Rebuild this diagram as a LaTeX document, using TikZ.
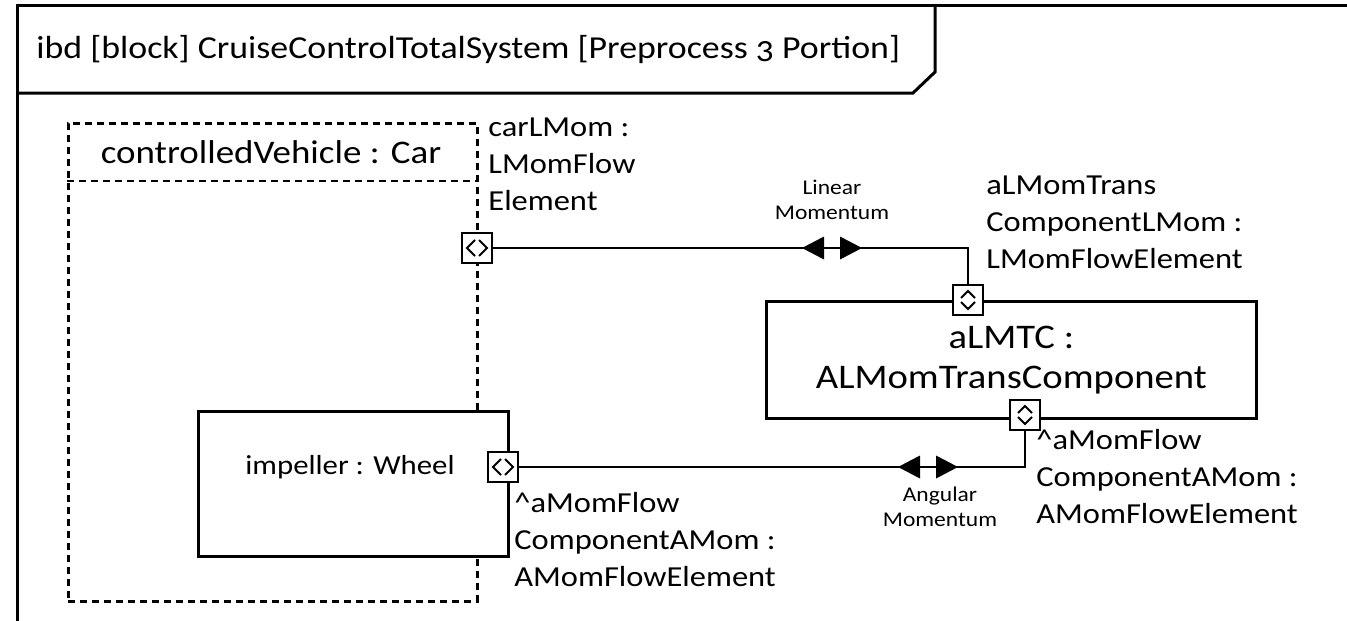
\documentclass[tikz,border=0pt]{standalone}
\usepackage{fontspec}
\setmainfont{Carlito}[Numbers=OldStyle,FakeStretch=1.12]
\usetikzlibrary{positioning}

\tikzstyle{partbox}=[rectangle,draw,fill=white,inner sep=0pt]
\tikzstyle{hport}=[rectangle,draw,fill=white,minimum size=30pt,inner sep=0pt,
  path picture={\draw[line width=2pt] ([shift={(-2pt,8pt)}]path picture bounding box.center) -- ++(-8pt,-8pt) -- ++(8pt,-8pt);
                \draw[line width=2pt] ([shift={(2pt,8pt)}]path picture bounding box.center) -- ++(8pt,-8pt) -- ++(-8pt,-8pt);}]
\tikzstyle{vport}=[rectangle,draw,fill=white,minimum size=30pt,inner sep=0pt,
  path picture={\draw[line width=2pt] ([shift={(-7pt,2pt)}]path picture bounding box.center) -- ++(7pt,7pt) -- ++(7pt,-7pt);
                \draw[line width=2pt] ([shift={(-7pt,-2pt)}]path picture bounding box.center) -- ++(7pt,-7pt) -- ++(7pt,7pt);}]
\tikzstyle{lbl}=[anchor=north west,align=left,inner sep=0pt,font=\fontsize{29}{37}\selectfont]
\tikzstyle{flowlbl}=[align=center,inner sep=0pt,font=\fontsize{21}{25}\selectfont]
\tikzstyle{connector}=[draw]
\tikzset{flowpair/.pic={
  \fill (-30pt,0pt) -- (-8pt,11.5pt) -- (-8pt,-11.5pt) -- cycle;
  \fill (8pt,11.5pt) -- (30pt,0pt) -- (8pt,-11.5pt) -- cycle;}}

\begin{document}
\begin{tikzpicture}[x=1pt,y=-1pt,line width=2.8pt]
\useasboundingbox (0,0) rectangle (1347,621);

 %frame
 \draw[line width=3pt] (1347,5) -- (17,5) -- (17,621);
 \draw[line width=3pt] (935,5) -- (935,72) -- (913,93) -- (17,93);
 \node[anchor=west,inner sep=0pt,font=\fontsize{32}{36}\selectfont] (title) at (35,50)
   {ibd [block] CruiseControlTotalSystem [Preprocess 3 Portion]};

 %controlledVehicle
 \node[partbox,dashed,dash pattern=on 7pt off 5pt,fill=none,minimum width=409pt,minimum height=478pt,anchor=north west] (car) at (67,122) {};
 \coordinate (carsep) at (67,181);
 \draw[dashed,dash pattern=on 7pt off 5pt] (carsep) -- (carsep -| car.east);
 \node[inner sep=0pt,font=\fontsize{33}{38}\selectfont] (carname) at (271,152) {controlledVehicle : Car};

 %impeller
 \node[partbox,minimum width=310pt,minimum height=145pt,anchor=north west] (imp) at (197,410) {};
 \node[inner sep=0pt,font=\fontsize{27.5}{32}\selectfont] (impname) at (350,467) {impeller : Wheel};

 %aLMTC
 \node[partbox,minimum width=490pt,minimum height=117pt,anchor=north west,align=center,
   font=\fontsize{34.5}{40}\selectfont] (almtc) at (765,300) {aLMTC :\\ALMomTransComponent};

 %ports
 \node[hport] (pCar) at (477,248) {};
 \node[vport] (pTop) at (968,300) {};
 \node[vport] (pBot) at (1025,415) {};
 \node[hport] (pImp) at (503,467) {};

 %connectors
 \path[connector] (pCar.east) -| (pTop.north);
 \path[connector] (pImp.east) -| (pBot.south);
 \pic at (832,248) {flowpair};
 \pic at (928,467) {flowpair};

 %labels
 \node[lbl] (lCar) at (487,116) {carLMom :\\LMomFlow\\Element};
 \node[lbl] (lTop) at (985,174) {aLMomTrans\\ComponentLMom :\\LMomFlowElement};
 \node[lbl] (lBot) at (1035,428) {\textasciicircum aMomFlow\\ComponentAMom :\\AMomFlowElement};
 \node[lbl] (lImp) at (513,491) {\textasciicircum aMomFlow\\ComponentAMom :\\AMomFlowElement};
 \node[flowlbl] (fLin) at (832,200) {Linear\\Momentum};
 \node[flowlbl] (fAng) at (940,507) {Angular\\Momentum};

\end{tikzpicture}
\end{document}
